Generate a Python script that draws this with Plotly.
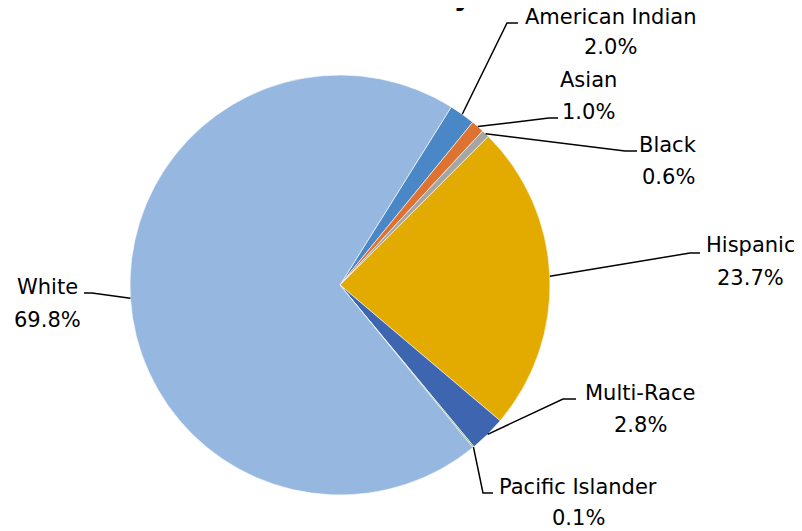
import math
import plotly.graph_objects as go

# ---- data ----
categories = ["American Indian", "Asian", "Black", "Hispanic", "Multi-Race", "Pacific Islander", "White"]
percents = [2.0, 1.0, 0.6, 23.7, 2.8, 0.1, 69.8]
colors = ["#4A87C6", "#DE7230", "#A5A5A5", "#E3AB00", "#3E65B0", "#70AD47", "#96B8E0"]
title_text = "Race/Ethnicity"

# ---- layout (pixels in the 802x531 window) ----
W, H = 802, 531
OFF = 8  # page body margin
CX, CY, R = 340, 285, 210
ROTATION = 32

# label layout: text centre x, name y, pct y, elbow point, end point of leader
label_layout = {
    "American Indian": (610, 17, 47, (507, 23), (518, 23)),
    "Asian": (588, 80, 112, (549, 118), (558, 118)),
    "Black": (668, 145, 177, (625, 151), (637, 151)),
    "Hispanic": (750, 245, 278, (690, 253), (700, 253)),
    "Multi-Race": (640, 393, 425, (563, 399), (576, 399)),
    "Pacific Islander": (578, 487, 518, (483, 493), (493, 493)),
    "White": (47, 287, 320, (92, 293), (84, 293)),
}

FW, FH = W - OFF, H - OFF

def px(x):
    return (x - OFF) / FW

def py(y):
    return 1 - (y - OFF) / FH

fig = go.Figure(go.Pie(
    labels=categories,
    values=percents,
    sort=False,
    direction="clockwise",
    rotation=ROTATION,
    marker=dict(colors=colors, line=dict(color="white", width=0.6)),
    textinfo="none",
    hoverinfo="label+percent",
    showlegend=False,
    domain=dict(x=[px(CX - R), px(CX + R)], y=[py(CY + R), py(CY - R)]),
))

font = dict(family="DejaVu Sans", size=21, color="#000000")
annotations = []
shapes = []
total = sum(percents)
cum = 0.0
for cat, val in zip(categories, percents):
    mid = ROTATION + (cum + val / 2) / total * 360
    cum += val
    ax = CX + R * math.sin(math.radians(mid))
    ay = CY - R * math.cos(math.radians(mid))
    tx, ny, pyy, (ex, ey), (fx, fy) = label_layout[cat]
    annotations.append(dict(x=px(tx), y=py(ny), xref="paper", yref="paper", text=cat,
                            showarrow=False, font=font, xanchor="center", yanchor="middle"))
    annotations.append(dict(x=px(tx), y=py(pyy), xref="paper", yref="paper", text=f"{val:.1f}%",
                            showarrow=False, font=font, xanchor="center", yanchor="middle"))
    shapes.append(dict(type="path", xref="paper", yref="paper",
                       path=f"M {px(ax)},{py(ay)} L {px(ex)},{py(ey)} L {px(fx)},{py(fy)}",
                       line=dict(color="black", width=1.5)))

# title, mostly cut off at the top of the image (as in the reference)
annotations.append(dict(x=px(474), y=py(-5), xref="paper", yref="paper", text=f"<b>{title_text}</b>",
                        showarrow=False, font=dict(family="DejaVu Sans", size=28, color="#000000"),
                        xanchor="right", yanchor="middle"))

fig.update_layout(
    width=FW, height=FH,
    margin=dict(l=0, r=0, t=0, b=0),
    paper_bgcolor="white",
    plot_bgcolor="white",
    annotations=annotations,
    shapes=shapes,
)

fig.write_html("out.html")
